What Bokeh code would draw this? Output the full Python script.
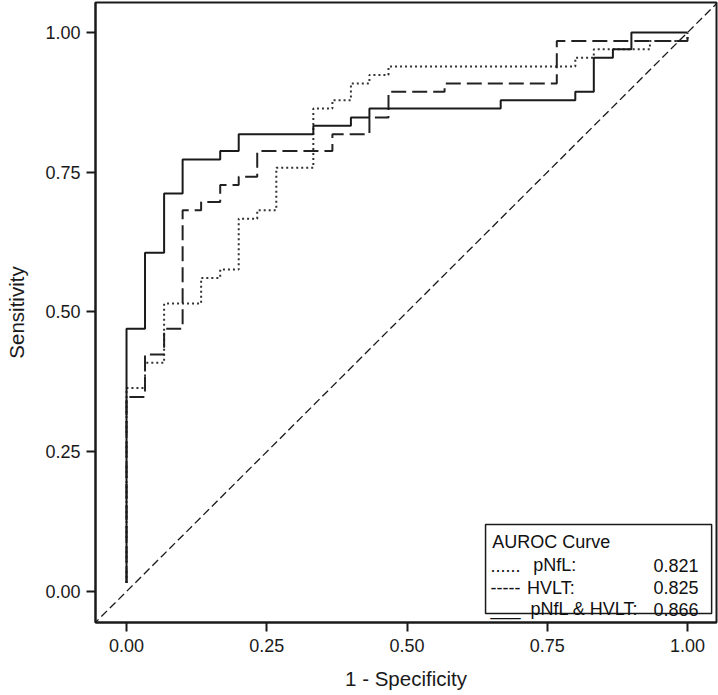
from bokeh.plotting import figure
from bokeh.models import FixedTicker, Label, BoxAnnotation, Range1d
from bokeh.embed import file_html
from bokeh.resources import INLINE

# ---- data ----
pnfl_fpr = [0.0, 0.0, 0.033, 0.067, 0.133, 0.167, 0.200, 0.233, 0.267, 0.333,
            0.367, 0.400, 0.433, 0.467, 0.800, 0.833, 0.933, 1.000]
pnfl_tpr = [0.015, 0.364, 0.409, 0.515, 0.561, 0.576, 0.667, 0.682, 0.758, 0.864,
            0.879, 0.909, 0.924, 0.939, 0.955, 0.970, 0.985, 1.000]

hvlt_fpr = [0.0, 0.0, 0.033, 0.067, 0.100, 0.133, 0.167, 0.200, 0.233, 0.367,
            0.433, 0.467, 0.567, 0.767, 1.000]
hvlt_tpr = [0.015, 0.348, 0.424, 0.470, 0.682, 0.697, 0.727, 0.742, 0.788, 0.818,
            0.848, 0.894, 0.909, 0.985, 1.000]

combo_fpr = [0.0, 0.0, 0.033, 0.067, 0.100, 0.167, 0.200, 0.333, 0.400, 0.433,
             0.667, 0.800, 0.833, 0.867, 0.900, 1.000]
combo_tpr = [0.015, 0.470, 0.606, 0.712, 0.773, 0.788, 0.818, 0.833, 0.848, 0.864,
             0.879, 0.894, 0.955, 0.970, 1.000, 1.000]

ref_line = [-0.06, 1.06]

tick_values = [0.0, 0.25, 0.5, 0.75, 1.0]
tick_labels = ["0.00", "0.25", "0.50", "0.75", "1.00"]

legend_title = "AUROC Curve"
legend_keys = ["......", "-----", "___"]
legend_names = ["pNfL:", "HVLT:", "pNfL & HVLT:"]
legend_values = ["0.821", "0.825", "0.866"]

FONT = "Liberation Sans"

p = figure(width=718, height=695, output_backend="svg", toolbar_location=None,
           x_range=Range1d(-0.0553, 1.0517), y_range=Range1d(-0.0555, 1.0537),
           min_border_left=95, min_border_right=2, min_border_top=2,
           min_border_bottom=73)
p.background_fill_color = "white"
p.border_fill_color = "white"
p.outline_line_color = "#1a1a1a"
p.outline_line_width = 2
p.xgrid.visible = False
p.ygrid.visible = False

for ax in (p.xaxis[0], p.yaxis[0]):
    ax.ticker = FixedTicker(ticks=tick_values)
    ax.major_label_overrides = {v: s for v, s in zip(tick_values, tick_labels)}
    ax.major_tick_out = 9
    ax.major_tick_in = 0
    ax.major_tick_line_width = 2
    ax.major_tick_line_color = "#1a1a1a"
    ax.minor_tick_line_color = None
    ax.axis_line_width = 2
    ax.axis_line_color = "#1a1a1a"
    ax.major_label_text_font = FONT
    ax.major_label_text_font_size = "18px"
    ax.major_label_text_color = "#1a1a1a"
    ax.axis_label_text_font = FONT
    ax.axis_label_text_font_size = "20.5px"
    ax.axis_label_text_font_style = "normal"
    ax.axis_label_text_color = "#1a1a1a"

p.xaxis.axis_label = "1 - Specificity"
p.yaxis.axis_label = "Sensitivity"
p.xaxis.major_label_standoff = 7
p.xaxis.axis_label_standoff = 12
p.yaxis.major_label_standoff = 6
p.yaxis.axis_label_standoff = 14

# reference diagonal
p.line(ref_line, ref_line, line_color="#1a1a1a", line_width=1.3, line_dash="8 4")

# ROC curves
p.step(pnfl_fpr, pnfl_tpr, mode="after", line_color="#333333", line_width=2,
       line_dash="2 3")
p.step(hvlt_fpr, hvlt_tpr, mode="after", line_color="#222222", line_width=2,
       line_dash="15 6")
p.step(combo_fpr, combo_tpr, mode="after", line_color="#1a1a1a", line_width=2)

# legend box (layout positions in data units)
p.add_layout(BoxAnnotation(left=0.640, right=1.043, bottom=-0.0394, top=0.1199,
                           fill_color="white", fill_alpha=1.0,
                           line_color="#1a1a1a", line_alpha=1.0, line_width=1.5))

def lab(x, y, text, align="left"):
    p.add_layout(Label(x=x, y=y, text=text, text_font=FONT,
                       text_font_size="18px", text_color="#111111",
                       text_align=align, text_baseline="alphabetic"))

lab(0.652, 0.0882, legend_title)
row_y = [0.0465, 0.0070, -0.0320]
key_x = 0.649
name_x = [0.725, 0.714, 0.720]
for i in range(3):
    lab(key_x, row_y[i], legend_keys[i])
    lab(name_x[i], row_y[i], legend_names[i])
    lab(1.0196, row_y[i], legend_values[i], align="right")

open("out.html", "w").write(file_html(p, INLINE))
